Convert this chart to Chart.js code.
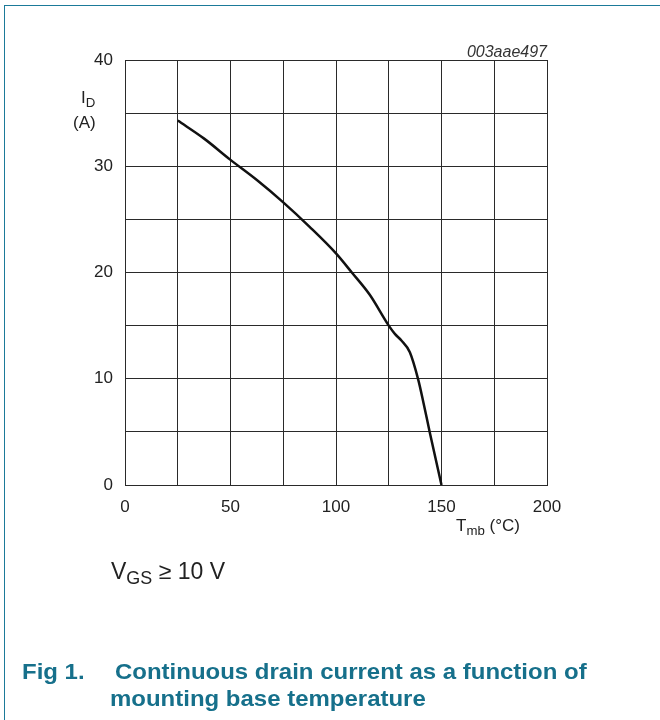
<!DOCTYPE html>
<html>
<head>
<meta charset="utf-8">
<script src="https://cdn.jsdelivr.net/npm/chart.js@4/dist/chart.umd.min.js"></script>
<style>
  html, body { margin: 0; padding: 0; background: #fff; }
  #wrap { position: relative; width: 660px; height: 720px; overflow: hidden; font-family: "Liberation Sans", Arial, sans-serif; }
  #frame { position: absolute; left: 4px; top: 5px; width: 700px; height: 800px; border-top: 1.5px solid #1b7a99; border-left: 1.5px solid #1b7a99; }
  canvas { position: absolute; left: 0; top: 0; }
  .lbl { position: absolute; color: #222; white-space: nowrap; line-height: 1; }
  .lbl sub { font-size: 0.78em; vertical-align: -0.3em; }
  .cap { position: absolute; color: #16708b; font-weight: bold; font-size: 22px; white-space: nowrap; line-height: 1;
         transform: scaleX(1.09); transform-origin: left top; }
</style>
</head>
<body>
<div id="wrap">
  <div id="frame"></div>
  <canvas id="chart" width="660" height="720"></canvas>
  <div class="lbl" style="left:81px; top:89px; font-size:17px;">I<sub>D</sub></div>
  <div class="lbl" style="left:73px; top:114px; font-size:17px;">(A)</div>
  <div class="lbl" style="left:456px; top:517px; font-size:17px;">T<sub>mb</sub> (°C)</div>
  <div class="lbl" style="right:113px; top:44px; font-size:16px; font-style:italic; color:#333;">003aae497</div>
  <div class="lbl" style="left:111px; top:560px; font-size:23px;">V<sub>GS</sub> ≥ 10 V</div>
  <div class="cap" style="left:22px; top:661px;">Fig 1.</div>
  <div class="cap" style="left:115px; top:661px;">Continuous drain current as a function of</div>
  <div class="cap" style="left:110px; top:688px;">mounting base temperature</div>
</div>
<script>
// ── Data ─────────────────────────────────────────────────────────────────────

const TEMPS   = [25, 37.5, 50, 62.5, 75, 87.5, 100, 107.5, 116, 125, 128, 131, 135, 139, 141.5, 144.5, 150];
const CURRENT = [34.3, 32.6, 30.6, 28.7, 26.6, 24.3, 21.8, 20.0, 17.9, 15.0, 14.2, 13.6, 12.5, 9.9, 7.7, 4.9, 0];

const X_MIN = 0, X_MAX = 200, X_STEP = 25, X_LABEL_STEP = 50;
const Y_MIN = 0, Y_MAX = 40,  Y_STEP = 5,  Y_LABEL_STEP = 10;

// ── Chart ────────────────────────────────────────────────────────────────────

const GRID = '#2a2a2a';
const tickFont = { family: '"Liberation Sans", Arial, sans-serif', size: 17 };

new Chart(document.getElementById('chart').getContext('2d'), {
  type: 'line',
  data: {
    datasets: [{
      data: TEMPS.map((t, i) => ({ x: t, y: CURRENT[i] })),
      borderColor: '#111',
      borderWidth: 2.5,
      pointRadius: 0,
      cubicInterpolationMode: 'monotone',
      fill: false
    }]
  },
  options: {
    responsive: false,
    animation: false,
    layout: { padding: { top: 60, right: 113, bottom: 195, left: 0 } },
    plugins: { legend: { display: false }, tooltip: { enabled: false } },
    scales: {
      x: {
        type: 'linear', min: X_MIN, max: X_MAX,
        afterFit: s => { s.height = 40; },
        grid: { color: GRID, lineWidth: 1, drawTicks: false },
        border: { color: GRID, width: 1 },
        ticks: {
          stepSize: X_STEP, padding: 12, color: '#222', font: tickFont, maxRotation: 0,
          callback: v => (v % X_LABEL_STEP === 0 ? v : '')
        }
      },
      y: {
        type: 'linear', min: Y_MIN, max: Y_MAX,
        afterFit: s => { s.width = 125; },
        grid: { color: GRID, lineWidth: 1, drawTicks: false },
        border: { color: GRID, width: 1 },
        ticks: {
          stepSize: Y_STEP, padding: 12, color: '#222', font: tickFont,
          callback: v => (v % Y_LABEL_STEP === 0 ? v : '')
        }
      }
    }
  }
});
</script>
</body>
</html>
